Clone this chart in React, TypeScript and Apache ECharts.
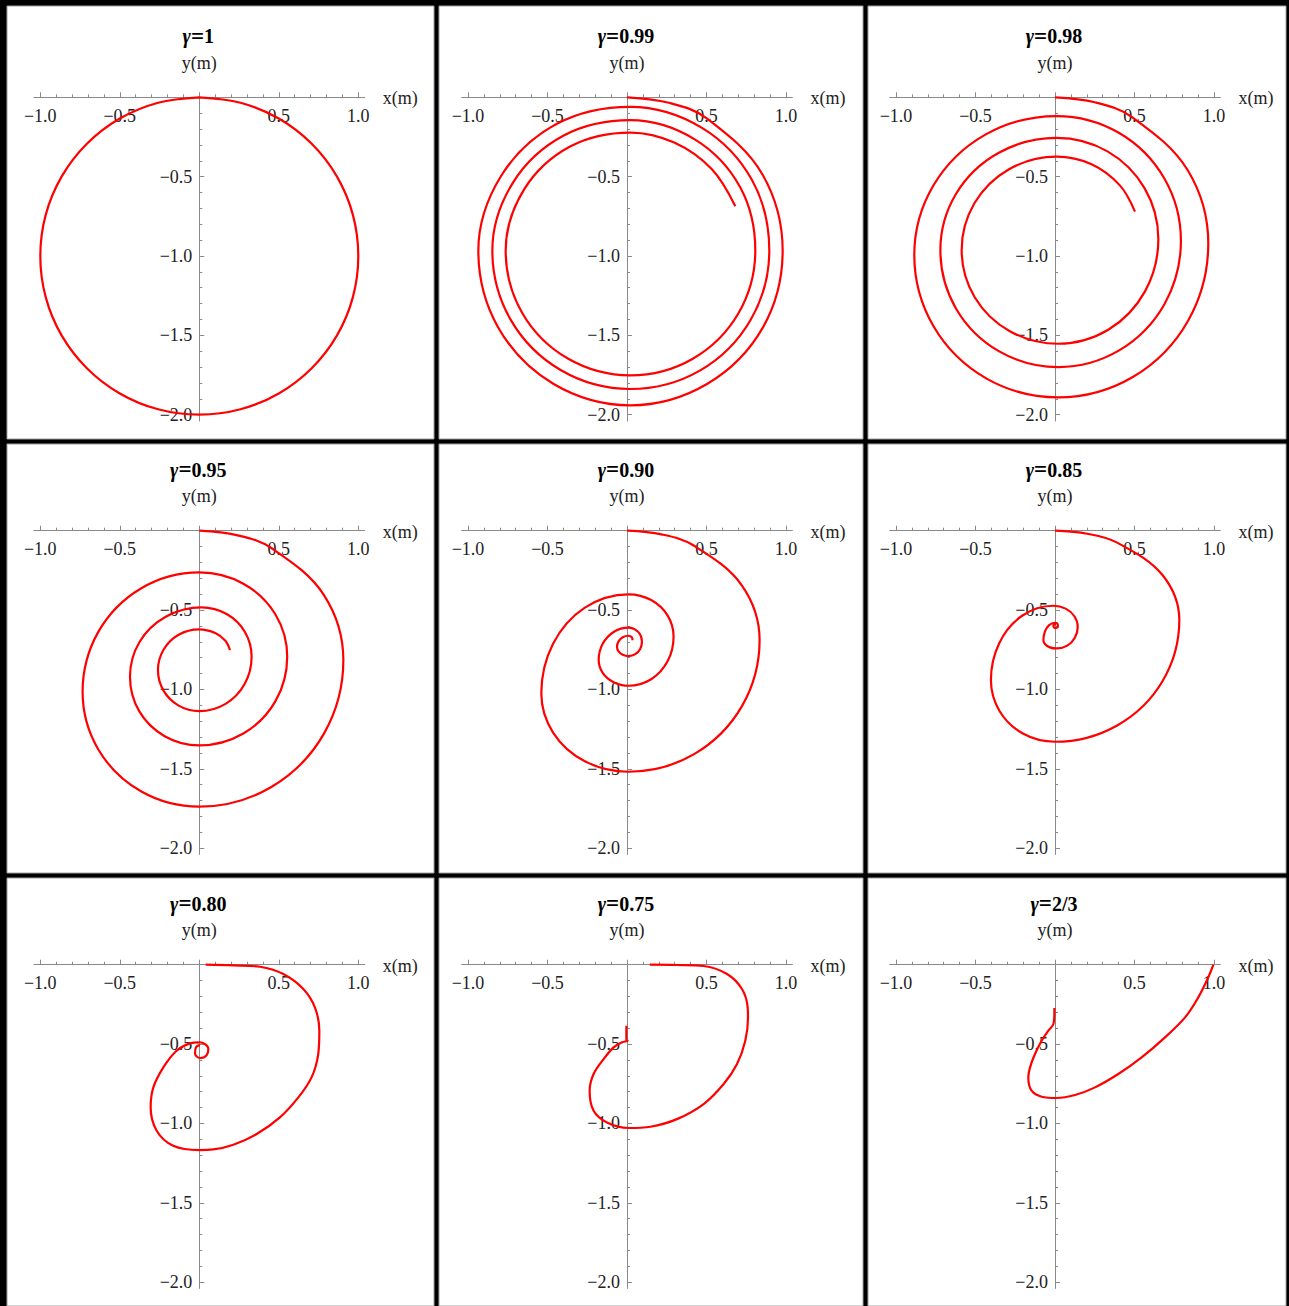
import React, { useEffect, useRef } from "react";
import * as echarts from "echarts";

// ---------- data ----------
const GAMMA_LABELS = ["1", "0.99", "0.98", "0.95", "0.90", "0.85", "0.80", "0.75", "2/3"];

const X_MAJOR_TICKS = [-1, -0.5, 0, 0.5, 1];
const X_TICK_LABELS = [-1, -0.5, 0.5, 1];
const X_MINOR_TICKS = [-1, -0.9, -0.8, -0.7, -0.6, -0.5, -0.4, -0.3, -0.2, -0.1, 0, 0.1, 0.2, 0.3, 0.4, 0.5, 0.6, 0.7, 0.8, 0.9, 1];
const Y_MAJOR_TICKS = [-2, -1.5, -1, -0.5];
const Y_TICK_LABELS = [-2, -1.5, -1, -0.5];
const Y_MINOR_TICKS = [-2, -1.9, -1.8, -1.7, -1.6, -1.5, -1.4, -1.3, -1.2, -1.1, -1, -0.9, -0.8, -0.7, -0.6, -0.5, -0.4, -0.3, -0.2, -0.1];

const G100 = [
  [0, 0], [0.259, -0.034], [0.5, -0.134], [0.707, -0.293], [0.866, -0.5], [0.966, -0.741], [1, -1],
  [0.966, -1.259], [0.866, -1.5], [0.707, -1.707], [0.5, -1.866], [0.259, -1.966], [0, -2],
  [-0.259, -1.966], [-0.5, -1.866], [-0.707, -1.707], [-0.866, -1.5], [-0.966, -1.259], [-1, -1],
  [-0.966, -0.741], [-0.866, -0.5], [-0.707, -0.293], [-0.5, -0.134], [-0.259, -0.034], [0, 0],
];

const G099 = [
  [0, 0], [0.27, -0.036], [0.502, -0.133], [0.852, -0.486], [0.979, -0.966], [0.856, -1.448], [0.506, -1.805], [0.021, -1.941],
  [-0.464, -1.805], [-0.812, -1.447], [-0.935, -0.966], [-0.792, -0.496], [-0.441, -0.167], [0.021, -0.06],
  [0.469, -0.191], [0.787, -0.523], [0.895, -0.966], [0.777, -1.403], [0.458, -1.722], [0.021, -1.838],
  [-0.415, -1.72], [-0.732, -1.401], [-0.847, -0.966], [-0.718, -0.539], [-0.398, -0.241], [0.021, -0.144],
  [0.426, -0.265], [0.712, -0.567], [0.807, -0.966], [0.702, -1.359], [0.414, -1.647], [0.021, -1.752],
  [-0.372, -1.646], [-0.659, -1.359], [-0.763, -0.966], [-0.647, -0.58], [-0.358, -0.31], [0.021, -0.222],
  [0.297, -0.285], [0.534, -0.453], [0.681, -0.686],
];

const G098 = [
  [0, 0], [0.25, -0.031], [0.482, -0.123], [0.835, -0.46], [0.964, -0.92], [0.838, -1.406], [0.492, -1.761], [0.02, -1.891],
  [-0.433, -1.771], [-0.764, -1.443], [-0.885, -0.994], [-0.765, -0.556], [-0.438, -0.235], [0.01, -0.118],
  [0.401, -0.223], [0.687, -0.51], [0.792, -0.903], [0.689, -1.302], [0.406, -1.593], [0.02, -1.7],
  [-0.351, -1.601], [-0.622, -1.332], [-0.721, -0.963], [-0.623, -0.609], [-0.356, -0.351], [0.01, -0.256],
  [0.33, -0.341], [0.564, -0.574], [0.65, -0.893], [0.566, -1.223], [0.335, -1.465], [0.02, -1.553],
  [-0.284, -1.474], [-0.506, -1.258], [-0.587, -0.963], [-0.507, -0.668], [-0.289, -0.453], [0.01, -0.374],
  [0.23, -0.422], [0.408, -0.555], [0.503, -0.72],
];

const G095 = [
  [0, 0], [0.235, -0.028], [0.453, -0.109], [0.785, -0.407], [0.906, -0.815], [0.785, -1.277], [0.453, -1.615], [0, -1.739],
  [-0.367, -1.642], [-0.636, -1.377], [-0.734, -1.015], [-0.636, -0.639], [-0.367, -0.364], [0, -0.263],
  [0.277, -0.334], [0.479, -0.528], [0.553, -0.794], [0.479, -1.074], [0.277, -1.278], [0, -1.353],
  [-0.218, -1.295], [-0.378, -1.137], [-0.436, -0.92], [-0.376, -0.701], [-0.211, -0.542], [0.015, -0.483],
  [0.172, -0.525], [0.287, -0.638], [0.329, -0.794], [0.285, -0.966], [0.165, -1.091], [0, -1.137],
  [-0.13, -1.102], [-0.225, -1.008], [-0.26, -0.878], [-0.225, -0.75], [-0.13, -0.656], [0, -0.622],
  [0.1, -0.645], [0.164, -0.694], [0.193, -0.752],
];

const G090 = [
  [0, 0], [0.216, -0.023], [0.417, -0.092], [0.722, -0.344], [0.834, -0.689], [0.724, -1.104], [0.422, -1.408], [0.01, -1.519],
  [-0.265, -1.453], [-0.465, -1.272], [-0.539, -1.025], [-0.465, -0.713], [-0.265, -0.485], [0.01, -0.401],
  [0.152, -0.437], [0.255, -0.534], [0.293, -0.668], [0.255, -0.823], [0.152, -0.936], [0.01, -0.977],
  [-0.084, -0.955], [-0.153, -0.896], [-0.178, -0.815], [-0.153, -0.713], [-0.084, -0.638], [0.01, -0.611],
  [0.052, -0.623], [0.083, -0.655], [0.094, -0.7], [0.083, -0.745], [0.052, -0.778], [0.01, -0.79],
  [-0.027, -0.782], [-0.053, -0.761], [-0.063, -0.731], [-0.053, -0.697], [-0.027, -0.671], [0.01, -0.662],
  [0.03, -0.672], [0.035, -0.69],
];

const G085 = [
  [0, 0], [0.203, -0.019], [0.391, -0.075], [0.677, -0.281], [0.782, -0.563], [0.677, -0.947], [0.391, -1.227], [0, -1.33],
  [-0.202, -1.278], [-0.349, -1.136], [-0.403, -0.941], [-0.35, -0.707], [-0.207, -0.536], [-0.01, -0.473],
  [0.067, -0.491], [0.122, -0.539], [0.143, -0.605], [0.125, -0.674], [0.077, -0.724], [0.01, -0.742],
  [-0.032, -0.735], [-0.062, -0.716], [-0.073, -0.689], [-0.063, -0.635], [-0.037, -0.595], [0, -0.58],
  [0.017, -0.59], [0.018, -0.605], [0.004, -0.613], [-0.01, -0.603], [-0.006, -0.59], [0.006, -0.59],
];

const G080 = [
  [0.04, 0], [0.214, -0.004], [0.382, -0.013], [0.528, -0.059], [0.654, -0.153], [0.727, -0.269], [0.755, -0.416],
  [0.748, -0.563], [0.706, -0.71], [0.623, -0.836], [0.507, -0.962], [0.361, -1.067], [0.214, -1.134],
  [0.088, -1.164], [0, -1.168], [-0.164, -1.141], [-0.268, -1.046], [-0.306, -0.899], [-0.289, -0.773],
  [-0.226, -0.647], [-0.143, -0.542], [-0.059, -0.496], [0, -0.49], [0.036, -0.5], [0.057, -0.53],
  [0.046, -0.57], [0.004, -0.588], [-0.027, -0.56], [-0.021, -0.52], [0.004, -0.507],
];

const G075 = [
  [0.143, 0], [0.314, -0.002], [0.482, -0.008], [0.629, -0.059], [0.723, -0.153], [0.759, -0.269], [0.761, -0.332],
  [0.744, -0.479], [0.692, -0.626], [0.608, -0.752], [0.482, -0.878], [0.314, -0.973], [0.147, -1.021],
  [0.01, -1.029], [-0.126, -0.994], [-0.21, -0.92], [-0.235, -0.794], [-0.21, -0.689], [-0.147, -0.595],
  [-0.084, -0.521], [-0.031, -0.489], [0.004, -0.479], [-0.004, -0.47], [-0.004, -0.43], [-0.004, -0.385],
];

const G067 = [
  [0.996, 0], [0.964, -0.08], [0.901, -0.206], [0.818, -0.332], [0.692, -0.458], [0.545, -0.584], [0.398, -0.689],
  [0.252, -0.773], [0.126, -0.821], [0.01, -0.84], [-0.084, -0.832], [-0.147, -0.794], [-0.168, -0.71],
  [-0.157, -0.647], [-0.126, -0.563], [-0.084, -0.479], [-0.042, -0.416], [-0.01, -0.374], [-0.004, -0.311],
  [-0.004, -0.273],
];

const TRAJECTORIES = [G100, G099, G098, G095, G090, G085, G080, G075, G067];

// ---------- layout / style ----------
const W = 1289;
const H = 1306;
const COL_ORIGIN_X = [199.3, 627, 1055];
const ROW_ORIGIN_Y = [97.3, 530.7, 964.7];
const SX = 159;
const SY = 158.7;
const X_PAD = 1.04;
const Y_MIN = -2.04;
const PANEL_COLS = [[7, 427], [439, 424], [868, 418]];
const PANEL_ROWS = [[6, 433], [444, 429], [878, 428]];
const SERIF = '"Liberation Serif", "Times New Roman", Times, serif';
const AXIS_COLOR = "#8a8a8a";
const LABEL_COLOR = "#222";
const CURVE_COLOR = "#ff0000";

const fmt = (v: number) => v.toFixed(1).replace("-", "\u2212");

function buildOption() {
  const grid: any[] = [];
  const xAxis: any[] = [];
  const yAxis: any[] = [];
  const series: any[] = [];
  const graphic: any[] = [];

  PANEL_ROWS.forEach(([py, ph]) => {
    PANEL_COLS.forEach(([px, pw]) => {
      graphic.push({
        type: "rect",
        z: -1,
        silent: true,
        shape: { x: px, y: py, width: pw, height: ph },
        style: { fill: "#ffffff", stroke: "#a0a0a0", lineWidth: 1 },
      });
    });
  });

  TRAJECTORIES.forEach((data, p) => {
    const c = p % 3;
    const r = Math.floor(p / 3);
    const ox = COL_ORIGIN_X[c];
    const oy = ROW_ORIGIN_Y[r];
    const yAxisOffset = -X_PAD * SX; // moves the y axis from the grid's left edge to x = 0
    grid.push({
      left: ox - X_PAD * SX,
      top: oy,
      width: 2 * X_PAD * SX,
      height: -Y_MIN * SY,
      containLabel: false,
      outerBoundsMode: "none",
    });
    xAxis.push({
      gridIndex: p,
      type: "value",
      min: -X_PAD,
      max: X_PAD,
      position: "top",
      axisLine: { show: true, onZero: false, lineStyle: { color: AXIS_COLOR, width: 1 } },
      axisTick: { show: true, inside: false, length: 5, customValues: X_MAJOR_TICKS, lineStyle: { color: AXIS_COLOR, width: 1 } },
      axisLabel: {
        show: true, inside: true, margin: 9.5, customValues: X_TICK_LABELS, formatter: fmt,
        color: LABEL_COLOR, fontFamily: SERIF, fontSize: 18,
      },
      splitLine: { show: false },
    });
    xAxis.push({
      gridIndex: p,
      type: "value",
      min: -X_PAD,
      max: X_PAD,
      position: "top",
      axisLine: { show: false, onZero: false },
      axisTick: { show: true, inside: false, length: 3, customValues: X_MINOR_TICKS, lineStyle: { color: AXIS_COLOR, width: 1 } },
      axisLabel: { show: false },
      splitLine: { show: false },
    });
    yAxis.push({
      gridIndex: p,
      type: "value",
      min: Y_MIN,
      max: 0,
      position: "left",
      offset: yAxisOffset,
      axisLine: { show: true, onZero: false, lineStyle: { color: AXIS_COLOR, width: 1 } },
      axisTick: { show: true, inside: true, length: 5, customValues: Y_MAJOR_TICKS, lineStyle: { color: AXIS_COLOR, width: 1 } },
      axisLabel: {
        show: true, inside: false, margin: 7, customValues: Y_TICK_LABELS, formatter: fmt,
        color: LABEL_COLOR, fontFamily: SERIF, fontSize: 18,
      },
      splitLine: { show: false },
    });
    yAxis.push({
      gridIndex: p,
      type: "value",
      min: Y_MIN,
      max: 0,
      position: "left",
      offset: yAxisOffset,
      axisLine: { show: false, onZero: false },
      axisTick: { show: true, inside: true, length: 3, customValues: Y_MINOR_TICKS, lineStyle: { color: AXIS_COLOR, width: 1 } },
      axisLabel: { show: false },
      splitLine: { show: false },
    });
    series.push({
      type: "line",
      name: "\u03b3=" + GAMMA_LABELS[p],
      xAxisIndex: 2 * p,
      yAxisIndex: 2 * p,
      data,
      showSymbol: false,
      smooth: 0.36,
      clip: false,
      silent: true,
      z: 3,
      lineStyle: { color: CURVE_COLOR, width: 2.2 },
    });

    // panel title
    graphic.push({
      type: "text",
      z: 5,
      silent: true,
      style: {
        x: ox - 1,
        y: oy - 61,
        text: "{g|\u03b3}{e|=}{n|" + GAMMA_LABELS[p] + "}",
        align: "center",
        verticalAlign: "middle",
        fill: "#000",
        rich: {
          g: { fontFamily: SERIF, fontSize: 20, fontWeight: "bold", fontStyle: "italic", fill: "#000" },
          e: { fontFamily: SERIF, fontSize: 23, fontWeight: "bold", fill: "#000" },
          n: { fontFamily: SERIF, fontSize: 20, fontWeight: "bold", fill: "#000" },
        },
      },
    });
    // y axis name
    graphic.push({
      type: "text",
      z: 5,
      silent: true,
      style: {
        x: ox,
        y: oy - 34.4,
        text: "y(m)",
        align: "center",
        verticalAlign: "middle",
        fill: LABEL_COLOR,
        fontFamily: SERIF,
        fontSize: 18,
      },
    });
    // x axis name
    graphic.push({
      type: "text",
      z: 5,
      silent: true,
      style: {
        x: ox + 183.4,
        y: oy + 0.8,
        text: "x(m)",
        align: "left",
        verticalAlign: "middle",
        fill: LABEL_COLOR,
        fontFamily: SERIF,
        fontSize: 18,
      },
    });
  });

  return {
    animation: false,
    backgroundColor: "#000000",
    grid,
    xAxis,
    yAxis,
    series,
    graphic,
  };
}

export default function App() {
  const ref = useRef<HTMLDivElement>(null);
  useEffect(() => {
    if (!ref.current) return;
    const chart = echarts.init(ref.current, null, { renderer: "svg" });
    chart.setOption(buildOption() as any);
    return () => chart.dispose();
  }, []);
  return (
    <div
      ref={ref}
      style={{ position: "absolute", left: 0, top: 0, width: W, height: H }}
    />
  );
}
